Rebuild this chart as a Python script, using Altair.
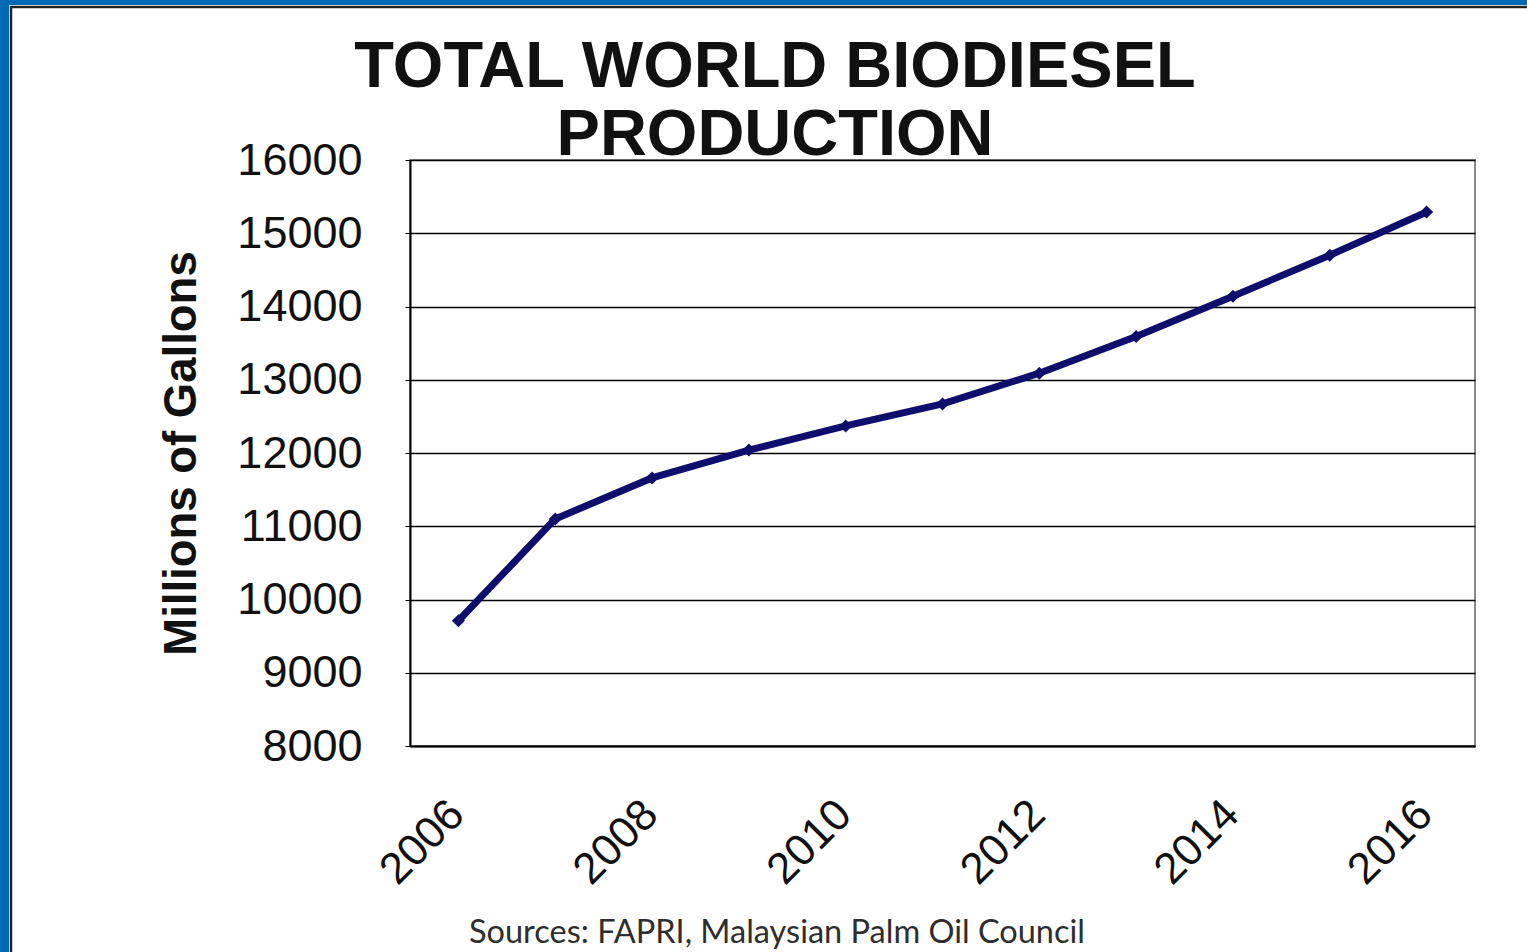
import altair as alt
import pandas as pd

# World biodiesel output, millions of gallons
years = [2006, 2007, 2008, 2009, 2010, 2011, 2012, 2013, 2014, 2015, 2016]
production = [9710, 11100, 11660, 12040, 12370, 12670, 13090, 13590, 14140, 14700, 15290]

y_ticks = [8000, 9000, 10000, 11000, 12000, 13000, 14000, 15000, 16000]
x_ticks = [2006, 2008, 2010, 2012, 2014, 2016]

title_lines = ["TOTAL WORLD BIODIESEL", "PRODUCTION"]
source_note = "Sources: FAPRI, Malaysian Palm Oil Council"

df = pd.DataFrame({"year": years, "production": production})
one = pd.DataFrame({"k": [0]})

PLOT_W, PLOT_H = 1065, 586
PAD = {"left": 410, "top": 160, "right": 52, "bottom": 206}
NAVY = "#0e0e6c"
FRAME_BLUE = "#0069b5"

x_enc = alt.X(
    "year:Q",
    scale=alt.Scale(domain=[2005.5, 2016.5], nice=False, zero=False),
    axis=alt.Axis(
        values=x_ticks, format="d", title="", grid=False, ticks=False,
        domainColor="black", domainWidth=2,
        labelAngle=315, labelAlign="right", labelBaseline="top",
        labelPadding=46, labelOffset=-17,
        labelFont="Liberation Sans", labelFontSize=44,
        labelColor="#111111", labelOverlap=False,
    ),
)
y_enc = alt.Y(
    "production:Q",
    scale=alt.Scale(domain=[8000, 16000], nice=False, zero=False),
    axis=alt.Axis(
        values=y_ticks, format="d", grid=True, gridColor="black", gridWidth=1.5,
        domainColor="black", domainWidth=2, tickColor="black", tickSize=5,
        labelPadding=43, labelFont="Liberation Sans", labelFontSize=45,
        labelColor="#111111",
        title="Millions of Gallons", titleFont="Liberation Sans", titleFontSize=45.5,
        titleFontWeight="bold", titleColor="#111111", titleAngle=270,
        titleX=-215, titleY=PLOT_H / 2, titleAlign="center", titleBaseline="alphabetic",
    ),
)

line = alt.Chart(df).mark_line(color=NAVY, strokeWidth=7).encode(x=x_enc, y=y_enc)
points = alt.Chart(df).mark_point(
    shape="diamond", filled=True, color=NAVY, size=170, opacity=1
).encode(x="year:Q", y="production:Q")

title1 = alt.Chart(one).mark_text(
    font="Liberation Sans", fontSize=65, fontWeight="bold", color="#111111",
    align="center", baseline="alphabetic",
).encode(x=alt.value(365), y=alt.value(-73), text=alt.value(title_lines[0]))
title2 = alt.Chart(one).mark_text(
    font="Liberation Sans", fontSize=65, fontWeight="bold", color="#111111",
    align="center", baseline="alphabetic",
).encode(x=alt.value(365), y=alt.value(-5), text=alt.value(title_lines[1]))

source = alt.Chart(one).mark_text(
    font="Lato", fontSize=32.5, color="#2e2e2e", align="center", baseline="alphabetic",
).encode(x=alt.value(367), y=alt.value(783), text=alt.value(source_note))

# Slide frame: blue band on the left and top with a dark inner rule
frame_left = alt.Chart(one).mark_rect(color=FRAME_BLUE).encode(
    x=alt.value(-410), x2=alt.value(-401), y=alt.value(-160), y2=alt.value(792)
)
frame_top = alt.Chart(one).mark_rect(color=FRAME_BLUE).encode(
    x=alt.value(-410), x2=alt.value(1117), y=alt.value(-160), y2=alt.value(-155)
)
rule_left = alt.Chart(one).mark_rule(color="#222222", strokeWidth=2.5).encode(
    x=alt.value(-399), y=alt.value(-154), y2=alt.value(792)
)
rule_top = alt.Chart(one).mark_rule(color="#222222", strokeWidth=2.5).encode(
    x=alt.value(-400), x2=alt.value(1117), y=alt.value(-153)
)

chart = alt.layer(
    frame_left, frame_top, rule_left, rule_top, line, points, title1, title2, source
).properties(
    width=PLOT_W, height=PLOT_H, padding=PAD,
    autosize=alt.AutoSizeParams(type="none"), background="white",
).configure_view(stroke="#8a8a8a", strokeWidth=2)

chart.save("out.html", embed_options={"renderer": "svg", "actions": False})
